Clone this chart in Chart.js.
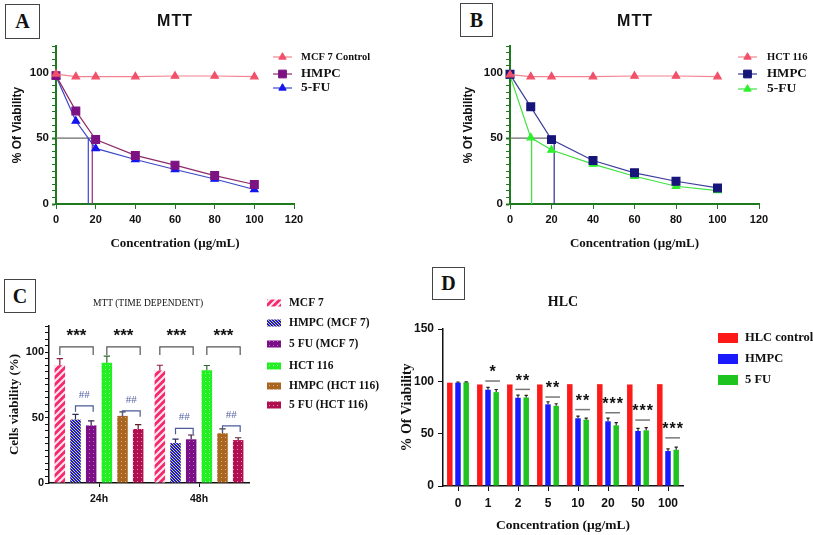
<!DOCTYPE html>
<html>
<head>
<meta charset="utf-8">
<script src="https://cdn.jsdelivr.net/npm/chart.js@4.4.1/dist/chart.umd.min.js"></script>
<style>
  body { margin: 0; background: #fff; }
  #page { position: relative; width: 813px; height: 535px; overflow: hidden; background: #fff; }
  canvas { position: absolute; }
  .tag { position: absolute; box-sizing: border-box; border: 1.5px solid #444; font: bold 20px "Liberation Serif", serif; color: #111;
         display: flex; align-items: center; justify-content: center; background: #fff; }
  .ttl { position: absolute; transform: translate(-50%, -50%); white-space: nowrap; color: #111; }
</style>
</head>
<body>
<div id="page">
  <canvas id="chartA" width="400" height="262" style="left:0;top:0"></canvas>
  <canvas id="chartB" width="413" height="262" style="left:400px;top:0"></canvas>
  <canvas id="chartC" width="400" height="267" style="left:0;top:268px"></canvas>
  <canvas id="chartD" width="413" height="267" style="left:400px;top:268px"></canvas>

  <div class="tag" style="left:5px;top:4px;width:35px;height:35px">A</div>
  <div class="tag" style="left:460px;top:3px;width:33px;height:34px">B</div>
  <div class="tag" style="left:4px;top:279px;width:32px;height:34px">C</div>
  <div class="tag" style="left:432px;top:267px;width:33px;height:33px">D</div>

  <div class="ttl" style="left:175px;top:21px;font:bold 16px 'Liberation Sans',Arial;letter-spacing:1px">MTT</div>
  <div class="ttl" style="left:635px;top:21px;font:bold 16px 'Liberation Sans',Arial;letter-spacing:1px">MTT</div>
  <div class="ttl" style="left:148px;top:303px;font:9.5px 'Liberation Serif',serif">MTT (TIME DEPENDENT)</div>
  <div class="ttl" style="left:563px;top:302px;font:bold 14px 'Liberation Serif',serif">HLC</div>
</div>

<script>
// ---------- data ----------
// A: MCF 7
const concA = [0, 10, 20, 40, 60, 80, 100];
const mcf7ControlA = [98.7, 96.7, 96.7, 96.7, 97.2, 97.2, 96.7];
const hmpcA = [97.5, 70.7, 49, 36.9, 29.5, 21.6, 14.8];
const fuA = [97, 63, 42.2, 33.8, 26.2, 19, 11];
const ic50A = [18.3, 16.3];      // HMPC, 5-FU
const ic50EndA = 20.2;

// B: HCT 116
const concB = [0, 10, 20, 40, 60, 80, 100];
const hct116B = [98.2, 96.7, 96.7, 96.7, 97.2, 97.2, 96.7];
const hmpcB = [98.5, 73.8, 48.9, 33, 23.7, 17.3, 12.2];
const fuB = [97.5, 50.4, 41, 30.3, 21.1, 13.5, 10.2];
const ic50B = [21.3, 10.4];      // HMPC, 5-FU
const ic50EndB = 21.3;

// C: time dependent
const timeLabels = ['24h', '48h'];
const mcf7C = [90, 86];
const hmpcMcf7C = [48.5, 30.5];
const fuMcf7C = [44, 33.4];
const hct116C = [92, 86.2];
const hmpcHctC = [51.3, 38];
const fuHctC = [41.3, 32.8];
const mcf7ErrC = [5, 4];
const hmpcMcf7ErrC = [4, 3];
const fuMcf7ErrC = [3.5, 3.3];
const hct116ErrC = [5, 3.6];
const hmpcHctErrC = [3, 3.3];
const fuHctErrC = [3.3, 1.8];
// [category, first bar, last bar, height, text]
const starBracketsC = [[0, 0, 2, 104, '***'], [0, 3, 5, 104, '***'], [1, 0, 2, 104, '***'], [1, 3, 5, 104, '***']];
const hashBracketsC = [[0, 1, 2, 59, '##'], [0, 4, 5, 55.2, '##'], [1, 1, 2, 41.8, '##'], [1, 4, 5, 43.6, '##']];

// D: HLC
const concD = ['0', '1', '2', '5', '10', '20', '50', '100'];
const hlcControlD = [98.7, 97, 97, 97, 97.3, 97.3, 97, 97.3];
const hmpcD = [98.7, 92, 84.3, 78, 64.7, 61.8, 52.6, 33.4];
const fuD = [99, 89.7, 84.6, 76.6, 63.4, 58, 53.2, 34.6];
const hmpcErrD = [0.5, 2.3, 2.5, 2.5, 2, 3, 2.5, 2];
const fuErrD = [0.5, 2.5, 2, 2, 1.5, 2.5, 2.5, 2.5];
const sigTextD = ['', '*', '**', '**', '**', '***', '***', '***'];
const sigLevelD = [null, 100.3, 92.3, 85, 73, 70, 63, 46];

// ---------- helpers ----------
const serif = '"Liberation Serif", "Times New Roman", serif';
const sans = '"Liberation Sans", Arial, sans-serif';
const green = '#1f7a1f';

function pts(xs, ys) { return xs.map((x, i) => ({ x: x, y: ys[i] })); }
function guide(x1, y1, x2, y2, color) {
  return { data: [{ x: x1, y: y1 }, { x: x2, y: y2 }], borderColor: color, borderWidth: 1.3,
           pointRadius: 0, noLegend: true, clip: false };
}
function fixWidth(w) { return s => { s.width = w; }; }
function fixHeight(h) { return s => { s.height = h; }; }

function makePattern(bg, fg, kind) {
  const c = document.createElement('canvas');
  const s = kind === 'stripe' ? 7 : (kind === 'hatch' ? 3 : 4);
  c.width = s; c.height = s;
  const g = c.getContext('2d');
  g.fillStyle = bg; g.fillRect(0, 0, s, s);
  g.fillStyle = fg; g.strokeStyle = fg;
  if (kind === 'stripe') {
    g.lineWidth = 2.2;
    g.beginPath();
    g.moveTo(-1, s + 1); g.lineTo(s + 1, -1);
    g.moveTo(-2, 2); g.lineTo(2, -2);
    g.moveTo(s - 2, s + 2); g.lineTo(s + 2, s - 2);
    g.stroke();
  } else if (kind === 'hatch') {
    for (let i = 0; i < s; i++) g.fillRect(i, i, 1, 1);
  } else {
    g.fillRect(1, 1, 1, 1);
  }
  return g.createPattern(c, 'repeat');
}

function drawMarker(ctx, style, x, y, r, fill, stroke) {
  ctx.beginPath();
  if (style === 'triangle') {
    ctx.moveTo(x, y - r); ctx.lineTo(x + r * 0.866, y + r / 2); ctx.lineTo(x - r * 0.866, y + r / 2);
    ctx.closePath();
  } else {
    const h = r * 0.707;
    ctx.rect(x - h, y - h, 2 * h, 2 * h);
  }
  ctx.fillStyle = fill; ctx.fill();
  ctx.strokeStyle = stroke; ctx.lineWidth = 1; ctx.stroke();
}

// ---------- plugins ----------
const customLegend = {
  id: 'customLegend',
  afterDraw(chart, args, opts) {
    const ctx = chart.ctx;
    ctx.save();
    const items = chart.data.datasets.filter(d => !d.noLegend);
    items.forEach((ds, i) => {
      const y = opts.rows[i];
      if (opts.kind === 'line') {
        ctx.strokeStyle = ds.borderColor; ctx.lineWidth = 1.2;
        ctx.beginPath(); ctx.moveTo(opts.x, y); ctx.lineTo(opts.x + 19, y); ctx.stroke();
        drawMarker(ctx, ds.pointStyle, opts.x + 9.5, y, ds.pointRadius, ds.pointBackgroundColor, ds.pointBorderColor);
      } else {
        ctx.fillStyle = ds.backgroundColor;
        ctx.fillRect(opts.x, y - opts.boxH / 2, opts.boxW, opts.boxH);
      }
      ctx.fillStyle = '#111';
      ctx.font = 'bold ' + opts.sizes[i] + 'px ' + serif;
      ctx.textAlign = 'left';
      ctx.textBaseline = 'middle';
      ctx.fillText(ds.label, opts.textX, y);
    });
    ctx.restore();
  }
};

const errorBars = {
  id: 'errorBars',
  afterDatasetsDraw(chart) {
    const ctx = chart.ctx, ys = chart.scales.y;
    ctx.save();
    chart.data.datasets.forEach((ds, di) => {
      if (!ds.err) return;
      chart.getDatasetMeta(di).data.forEach((bar, i) => {
        const top = ys.getPixelForValue(ds.data[i] + ds.err[i]);
        const half = bar.width * 0.3;
        ctx.strokeStyle = ds.errColor; ctx.lineWidth = 1.2;
        ctx.beginPath();
        ctx.moveTo(bar.x, bar.y); ctx.lineTo(bar.x, top);
        ctx.moveTo(bar.x - half, top); ctx.lineTo(bar.x + half, top);
        ctx.stroke();
      });
    });
    ctx.restore();
  }
};

const brackets = {
  id: 'brackets',
  afterDatasetsDraw(chart, args, opts) {
    const ctx = chart.ctx, ys = chart.scales.y;
    ctx.save();
    opts.sets.forEach(set => {
      set.items.forEach(([cat, a, b, val, text]) => {
        const x1 = chart.getDatasetMeta(a).data[cat].x;
        const x2 = chart.getDatasetMeta(b).data[cat].x + 2;
        const y = ys.getPixelForValue(val);
        ctx.strokeStyle = set.color; ctx.lineWidth = 1.2;
        ctx.beginPath();
        ctx.moveTo(x1, y + set.leg); ctx.lineTo(x1, y); ctx.lineTo(x2, y); ctx.lineTo(x2, y + set.leg);
        ctx.stroke();
        ctx.fillStyle = set.textColor; ctx.font = set.font;
        ctx.textAlign = 'center'; ctx.textBaseline = 'middle';
        ctx.fillText(text, (x1 + x2) / 2, y - set.gap);
      });
    });
    ctx.restore();
  }
};

const sigLines = {
  id: 'sigLines',
  afterDatasetsDraw(chart, args, opts) {
    const ctx = chart.ctx, ys = chart.scales.y;
    const m1 = chart.getDatasetMeta(1).data, m2 = chart.getDatasetMeta(2).data;
    ctx.save();
    opts.levels.forEach((lv, i) => {
      if (lv === null) return;
      const x1 = m1[i].x - m1[i].width / 2, x2 = m2[i].x + m2[i].width / 2 + 1;
      const y = ys.getPixelForValue(lv);
      ctx.strokeStyle = '#777'; ctx.lineWidth = 1.5;
      ctx.beginPath(); ctx.moveTo(x1, y); ctx.lineTo(x2, y); ctx.stroke();
      ctx.fillStyle = '#111'; ctx.font = 'bold 16px ' + sans;
      ctx.letterSpacing = '1px';
      ctx.textAlign = 'center'; ctx.textBaseline = 'middle';
      ctx.fillText(opts.texts[i], (x1 + x2) / 2 + 0.5, y - 8);
    });
    ctx.restore();
  }
};

// ---------- line charts (A, B) ----------
function lineScales(axisColor, yTitleLeft, yWidth) {
  return {
    x: {
      type: 'linear', min: 0, max: 120,
      border: { color: axisColor, width: 2 },
      grid: { drawOnChartArea: false, color: axisColor, tickLength: 5 },
      ticks: { stepSize: 20, color: '#111', padding: 4, font: { family: sans, weight: 'bold', size: 11 } },
      title: { display: true, text: 'Concentration (µg/mL)', color: '#111',
               font: { family: serif, weight: 'bold', size: 13 }, padding: { top: 0, bottom: 11 } },
      afterFit: fixHeight(58)
    },
    y: {
      min: 0, max: 120,
      border: { color: axisColor, width: 2 },
      grid: { drawOnChartArea: false, color: axisColor, tickLength: 4,
              tickWidth: c => (c.tick && c.tick.value % 50 === 0 ? 2 : 1) },
      ticks: { stepSize: 5, autoSkip: false, color: '#111', padding: 3,
               font: { family: sans, weight: 'bold', size: 11.5 },
               callback: v => (v % 50 === 0 && v <= 100 ? v : '') },
      title: { display: true, text: '% Of Viability', color: '#111',
               font: { family: sans, weight: 'bold', size: 12 }, padding: { top: yTitleLeft, bottom: 0 } },
      afterFit: fixWidth(yWidth)
    }
  };
}

function lineSet(label, xs, ys, line, fill, style, r) {
  return { label: label, data: pts(xs, ys), borderColor: line, borderWidth: 1.2, tension: 0,
           pointStyle: style, pointRadius: r, pointBackgroundColor: fill, pointBorderColor: fill,
           clip: false };
}

new Chart(document.getElementById('chartA'), {
  type: 'line',
  data: {
    datasets: [
      lineSet('MCF 7 Control', concA, mcf7ControlA, '#f2838f', '#f2506a', 'triangle', 4.3),
      lineSet('HMPC', concA, hmpcA, '#8e2a66', '#7d1383', 'rect', 5.5),
      lineSet('5-FU', concA, fuA, '#3a46c8', '#1515ee', 'triangle', 4.3),
      guide(0, 50, ic50EndA, 50, '#6b6b6b'),
      guide(ic50A[0], 50, ic50A[0], 0, '#9a3a8a'),
      guide(ic50A[1], 50, ic50A[1], 0, '#4a55d6')
    ]
  },
  options: {
    responsive: false, animation: false,
    layout: { padding: { left: 0, top: 46, right: 106, bottom: 0 } },
    plugins: {
      legend: { display: false }, tooltip: { enabled: false },
      customLegend: { kind: 'line', x: 273, textX: 301, rows: [57, 74, 88], sizes: [10.5, 13, 13.5] }
    },
    scales: lineScales(green, 10, 56)
  },
  plugins: [customLegend]
});

new Chart(document.getElementById('chartB'), {
  type: 'line',
  data: {
    datasets: [
      lineSet('HCT 116', concB, hct116B, '#f2838f', '#f2506a', 'triangle', 4.3),
      lineSet('HMPC', concB, hmpcB, '#3d3d9c', '#16167a', 'rect', 5.5),
      lineSet('5-FU', concB, fuB, '#3fe23f', '#2ef02e', 'triangle', 4.3),
      guide(0, 50, ic50EndB, 50, '#6b6b6b'),
      guide(ic50B[0], 50, ic50B[0], 0, '#3d3d9c'),
      guide(ic50B[1], 50, ic50B[1], 0, '#3fe23f')
    ]
  },
  options: {
    responsive: false, animation: false,
    layout: { padding: { left: 54, top: 46, right: 54, bottom: 0 } },
    plugins: {
      legend: { display: false }, tooltip: { enabled: false },
      customLegend: { kind: 'line', x: 338, textX: 367, rows: [57, 74, 89], sizes: [10.5, 13, 13.5] }
    },
    scales: lineScales(green, 7, 56)
  },
  plugins: [customLegend]
});

// ---------- bar chart C ----------
const setsC = [
  ['MCF 7', mcf7C, mcf7ErrC, '#f5286e', '#ffe4ee', 'stripe', '#8a2040'],
  ['HMPC (MCF 7)', hmpcMcf7C, hmpcMcf7ErrC, '#1a1ad8', '#d8cc60', 'hatch', '#2a2a60'],
  ['5 FU (MCF 7)', fuMcf7C, fuMcf7ErrC, '#7a0f86', '#c46cc4', 'dots', '#3a1a45'],
  ['HCT 116', hct116C, hct116ErrC, '#22f022', '#a8ffa8', 'dots', '#2a6a2a'],
  ['HMPC (HCT 116)', hmpcHctC, hmpcHctErrC, '#a8661e', '#e2a8a0', 'dots', '#4a3a2a'],
  ['5 FU (HCT 116)', fuHctC, fuHctErrC, '#b01050', '#f08cb0', 'dots', '#5a2030']
];

new Chart(document.getElementById('chartC'), {
  type: 'bar',
  data: {
    labels: timeLabels,
    datasets: setsC.map(s => ({
      label: s[0], data: s[1], err: s[2], errColor: s[6],
      backgroundColor: makePattern(s[3], s[4], s[5]), borderWidth: 0
    }))
  },
  options: {
    responsive: false, animation: false,
    layout: { padding: { left: 0, top: 58, right: 151, bottom: 0 } },
    datasets: { bar: { categoryPercentage: 0.94, barPercentage: 0.67 } },
    plugins: {
      legend: { display: false }, tooltip: { enabled: false },
      customLegend: { kind: 'box', x: 267, textX: 289, boxW: 14, boxH: 7,
                      rows: [35, 55, 76, 98, 118, 137], sizes: [11.5, 11.5, 11.5, 11.5, 11.5, 11.5] },
      brackets: {
        sets: [
          { items: starBracketsC, color: '#555', textColor: '#111', leg: 8, gap: 11, font: 'bold 17px ' + sans },
          { items: hashBracketsC, color: '#4a5a9a', textColor: '#5a66a8', leg: 6, gap: 11, font: '11px ' + serif }
        ]
      }
    },
    scales: {
      x: {
        border: { color: '#111', width: 1.5 },
        grid: { drawOnChartArea: false, offset: false, color: '#111', tickLength: 4 },
        ticks: { color: '#111', padding: 6, font: { family: sans, weight: 'bold', size: 10.5 } },
        afterFit: fixHeight(52)
      },
      y: {
        min: 0, max: 120,
        border: { color: '#111', width: 1.5 },
        grid: { drawOnChartArea: false, color: '#111', tickLength: 4 },
        ticks: { stepSize: 5, autoSkip: false, color: '#111', padding: 1,
                 font: { family: sans, weight: 'bold', size: 11 },
                 callback: v => (v % 50 === 0 && v <= 100 ? v : '') },
        title: { display: true, text: 'Cells viability (%)', color: '#111',
                 font: { family: serif, weight: 'bold', size: 13 }, padding: { top: 7, bottom: 0 } },
        afterFit: fixWidth(49)
      }
    }
  },
  plugins: [errorBars, brackets, customLegend]
});

// ---------- bar chart D ----------
new Chart(document.getElementById('chartD'), {
  type: 'bar',
  data: {
    labels: concD,
    datasets: [
      { label: 'HLC control', data: hlcControlD, backgroundColor: '#ff1a1a', borderWidth: 0 },
      { label: 'HMPC', data: hmpcD, err: hmpcErrD, errColor: '#222', backgroundColor: '#1a1aff', borderWidth: 0 },
      { label: '5 FU', data: fuD, err: fuErrD, errColor: '#222', backgroundColor: '#20c420', borderWidth: 0 }
    ]
  },
  options: {
    responsive: false, animation: false,
    layout: { padding: { left: 0, top: 61, right: 130, bottom: 0 } },
    datasets: { bar: { categoryPercentage: 0.82, barPercentage: 0.67 } },
    plugins: {
      legend: { display: false }, tooltip: { enabled: false },
      customLegend: { kind: 'box', x: 318, textX: 345, boxW: 20, boxH: 10,
                      rows: [70, 91, 112], sizes: [12.5, 12.5, 12.5] },
      sigLines: { levels: sigLevelD, texts: sigTextD }
    },
    scales: {
      x: {
        border: { color: '#111', width: 1.5 },
        grid: { drawOnChartArea: false, offset: false, color: '#111', tickLength: 5 },
        ticks: { color: '#111', padding: 5, font: { family: sans, weight: 'bold', size: 12 } },
        title: { display: true, text: 'Concentration (µg/mL)', color: '#111',
                 font: { family: serif, weight: 'bold', size: 13.5 }, padding: { top: 0, bottom: 1 } },
        afterFit: fixHeight(49)
      },
      y: {
        min: 0, max: 150,
        border: { color: '#111', width: 1.5 },
        grid: { drawOnChartArea: false, color: '#111', tickLength: 5 },
        ticks: { stepSize: 50, color: '#111', padding: 4, font: { family: sans, weight: 'bold', size: 12 } },
        title: { display: true, text: '% Of Viability', color: '#111',
                 font: { family: serif, weight: 'bold', size: 14, lineHeight: 1 }, padding: { top: 0, bottom: 0 } },
        afterFit: fixWidth(43)
      }
    }
  },
  plugins: [errorBars, sigLines, customLegend]
});
</script>
</body>
</html>
